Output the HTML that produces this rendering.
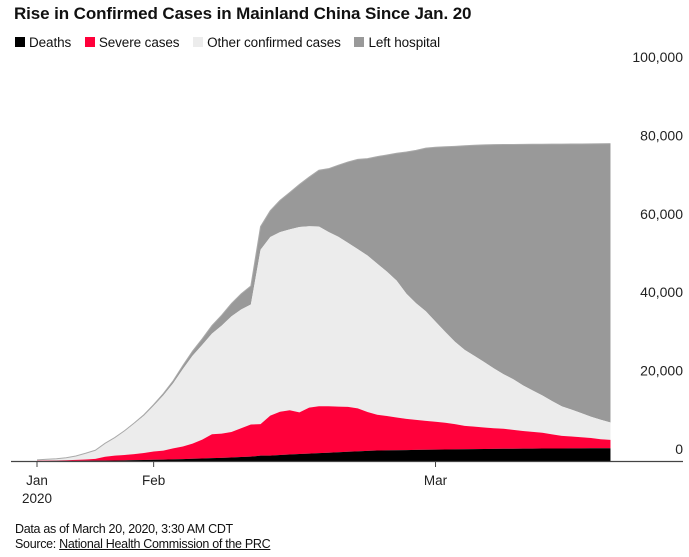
<!DOCTYPE html>
<html><head><meta charset="utf-8"><style>
body{margin:0;background:#fff;font-family:"Liberation Sans",sans-serif;}
#wrap{position:relative;width:689px;height:557px;overflow:hidden;}
.t{position:absolute;white-space:nowrap;color:#111;}
</style></head><body>
<div id="wrap">
<div class="t" style="left:14px;top:4px;font-size:17px;font-weight:bold;letter-spacing:-0.1px;">Rise in Confirmed Cases in Mainland China Since Jan. 20</div>
<div class="t" style="left:15px;top:35px;font-size:13.5px;letter-spacing:-0.1px;">
<span><span style="display:inline-block;width:10px;height:10px;background:#000;margin-right:4px;"></span>Deaths</span>
<span style="margin-left:10px;"><span style="display:inline-block;width:10px;height:10px;background:#ff003a;margin-right:4px;"></span>Severe cases</span>
<span style="margin-left:10px;"><span style="display:inline-block;width:10px;height:10px;background:#ececec;margin-right:4px;"></span>Other confirmed cases</span>
<span style="margin-left:10px;"><span style="display:inline-block;width:10px;height:10px;background:#999;margin-right:4px;"></span>Left hospital</span>
</div>
<svg id="svg" width="689" height="557" style="position:absolute;left:0;top:0;"></svg>
<div class="t" style="left:15px;top:522px;font-size:12.5px;letter-spacing:-0.3px;line-height:15px;">Data as of March 20, 2020, 3:30 AM CDT<br>Source: <span style="text-decoration:underline;">National Health Commission of the PRC</span></div>
</div>
<script>
const confirmed=[291,440,571,830,1287,1975,2744,4515,5974,7711,9692,11791,14380,17205,20438,24324,28018,31161,34546,37198,40171,42638,44653,59804,63851,66492,68500,70548,72436,74185,74576,75465,76288,76936,77150,77658,78064,78497,78824,79251,79824,80026,80151,80270,80409,80552,80651,80695,80735,80754,80778,80793,80813,80824,80844,80860,80881,80894,80928,80967];
const deaths=[6,9,17,25,41,56,80,106,132,170,213,259,304,361,425,490,563,636,722,811,908,1016,1113,1367,1380,1523,1665,1770,1868,2004,2118,2236,2345,2442,2592,2663,2715,2744,2788,2835,2870,2912,2943,2981,3012,3042,3070,3097,3119,3136,3158,3169,3176,3189,3199,3213,3226,3237,3245,3248];
const recovered=[25,28,28,34,38,49,51,60,103,124,171,243,328,475,632,892,1153,1540,2050,2649,3281,3996,4740,5911,6723,8096,9419,10844,12552,14376,16155,18264,20659,22888,24734,27323,29745,32495,36117,39002,41625,44462,47204,49856,52045,53726,55404,57065,58600,59897,61475,62793,64111,65541,66911,67749,68679,69601,70420,71150];
const severe=[51,102,95,177,237,324,461,976,1239,1370,1527,1795,2110,2296,2788,3219,3859,4821,6101,6188,6484,7333,8204,8030,10204,11053,11272,10644,11741,11977,11864,11633,11477,10968,9915,9126,8752,8346,7952,7664,7365,7110,6806,6416,5952,5737,5489,5264,5111,4794,4492,4257,4020,3610,3226,3032,2830,2622,2314,2136];
const yTicks=[0,20000,40000,60000,80000,100000];
const xTickLabels=["Jan\n2020","Feb","Mar"];
const xTickDays=[0,12,41];

const svg=document.getElementById('svg');const NS='http://www.w3.org/2000/svg';
const x0=37,dx=9.72,y0=461,ky=3.92/1000;
const X=i=>x0+i*dx, Y=v=>y0-v*ky;
function mk(t,a){const e=document.createElementNS(NS,t);for(const k in a)e.setAttribute(k,a[k]);svg.appendChild(e);return e;}
const n=confirmed.length;
const s1=deaths.map(v=>v);
const s2=deaths.map((v,i)=>v+severe[i]);
const s3=confirmed.map((v,i)=>v-recovered[i]);
const s4=confirmed.slice();
function area(lo,hi,fill,name){
  let d='M'+X(0)+','+Y(hi[0]);
  for(let i=1;i<n;i++)d+='L'+X(i)+','+Y(hi[i]);
  for(let i=n-1;i>=0;i--)d+='L'+X(i)+','+Y(lo?lo[i]:0);
  const p=mk('path',{d:d+'Z',fill:fill});
  
  
}
area(s3,s4,'#999','area-left-hospital');
area(s2,s3,'#ececec','area-other-confirmed');
area(s1,s2,'#ff003a','area-severe');
area(null,s1,'#000','area-deaths');
let d='M'+X(0)+','+Y(s4[0]);for(let i=1;i<n;i++)d+='L'+X(i)+','+Y(s4[i]);
const ol=mk('path',{d:d,fill:'none',stroke:'#aaa','stroke-width':1});


const ax=mk('line',{x1:11,x2:683,y1:y0+0.5,y2:y0+0.5,stroke:'#444','stroke-width':1.2});


yTicks.forEach(v=>{
  const t=mk('text',{x:683,y:Y(v)-7,'text-anchor':'end','font-size':14,fill:'#222','font-family':'Liberation Sans, sans-serif'});
  t.textContent=v.toLocaleString('en-US');
  
  
});
xTickDays.forEach((dd,j)=>{
  const tk=mk('line',{x1:X(dd),x2:X(dd),y1:y0,y2:y0+6,stroke:'#444','stroke-width':1});
  
  
  xTickLabels[j].split('\n').forEach((s,k)=>{
    const t=mk('text',{x:X(dd),y:y0+24+k*18,'text-anchor':'middle','font-size':13.5,fill:'#222','font-family':'Liberation Sans, sans-serif'});
    t.textContent=s;
    
    
  });
});
</script>
</body></html>
